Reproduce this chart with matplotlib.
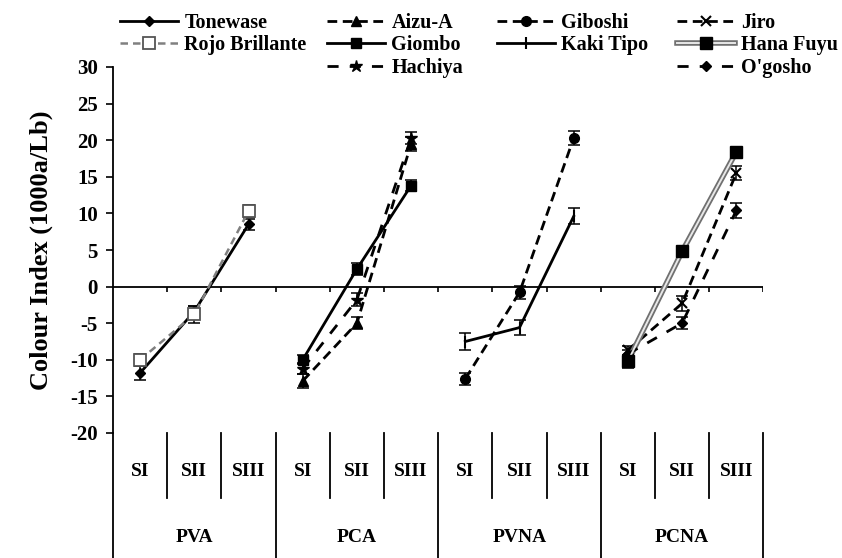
import matplotlib
matplotlib.use("Agg")
import matplotlib.pyplot as plt
from matplotlib.lines import Line2D
from matplotlib.legend_handler import HandlerTuple
import matplotlib.transforms as mtransforms

plt.rcParams['font.family'] = ['Liberation Serif', 'DejaVu Serif']
plt.rcParams['font.weight'] = 'bold'

# ---- data ----
groups = ["PVA", "PCA", "PVNA", "PCNA"]
stages = ["SI", "SII", "SIII"]
yticks = [30, 25, 20, 15, 10, 5, 0, -5, -10, -15, -20]

tonewase = [-11.8, -3.4, 8.5]
tonewase_err = [1.0, 0.8, 0.8]
rojo = [-10.0, -3.8, 10.3]
rojo_err = [0.8, 1.2, 0.8]
aizu = [-12.9, -5.0, 19.5]
aizu_err = [1.0, 0.8, 1.0]
giombo = [-10.0, 2.4, 13.8]
giombo_err = [0.6, 0.8, 0.8]
hachiya = [-11.2, -1.8, 20.3]
hachiya_err = [0.8, 0.9, 0.8]
giboshi = [-12.6, -0.8, 20.3]
giboshi_err = [0.8, 0.9, 1.0]
kaki = [-7.5, -5.6, 9.6]
kaki_err = [1.1, 1.0, 1.1]
jiro = [-8.7, -2.3, 15.5]
jiro_err = [0.6, 1.0, 1.0]
hana = [-10.2, 4.8, 18.4]
hana_err = [0.9, 0.6, 0.6]
ogosho = [-9.2, -5.0, 10.4]
ogosho_err = [0.6, 0.8, 1.0]

W, H = 842, 558
fig = plt.figure(figsize=(W / 100, H / 100), dpi=100)
ax_l, ax_r, ax_t, ax_b = 113, 763.4, 67, 433
ax = fig.add_axes([ax_l / W, (H - ax_b) / H, (ax_r - ax_l) / W, (ax_b - ax_t) / H])
ax.set_xlim(0, 12)
ax.set_ylim(-20, 30)

for s in ["top", "right", "bottom"]:
    ax.spines[s].set_visible(False)
ax.spines["left"].set_linewidth(1.3)
ax.set_yticks(yticks)
ax.set_yticklabels([str(v) for v in yticks], fontsize=15, fontweight='bold')
ax.tick_params(axis='y', direction='out', length=5, width=1.2, pad=6)
ax.set_xticks([])
ax.set_ylabel("Colour Index (1000a/Lb)", fontsize=19, fontweight='bold', labelpad=12)

# zero line with ticks
ax.axhline(0, color='black', lw=1.3, zorder=1)
ax.vlines(range(1, 13), -0.7, 0, color='black', lw=1.2)

def gx(gi):
    return [gi * 3 + 0.5, gi * 3 + 1.5, gi * 3 + 2.5]

ekw = dict(ecolor='black', elinewidth=1.1, capsize=4, capthick=1.1, zorder=3)

def draw(gi, vals, err, **kw):
    x = gx(gi)
    ax.errorbar(x, vals, yerr=err, fmt='none', **ekw)
    return ax.plot(x, vals, zorder=4, **kw)[0]

h_tone = draw(0, tonewase, tonewase_err, color='black', lw=2, ls='-', marker='D', ms=5)
h_rojo = draw(0, rojo, rojo_err, color='#808080', lw=1.8, ls=(0, (3, 2)), marker='s', ms=8,
              mfc='white', mec='#555555', mew=1.3)
h_aizu = draw(1, aizu, aizu_err, color='black', lw=2, ls=(0, (3.5, 2)), marker='^', ms=7)
h_giom = draw(1, giombo, giombo_err, color='black', lw=2, ls='-', marker='s', ms=7)
h_hach = draw(1, hachiya, hachiya_err, color='black', lw=2, ls=(0, (4, 4)), marker='*', ms=9)
h_gibo = draw(2, giboshi, giboshi_err, color='black', lw=2, ls=(0, (3.5, 2)), marker='o', ms=7)
h_kaki = draw(2, kaki, kaki_err, color='black', lw=2, ls='-', marker='|', ms=8, mew=1.5)
h_jiro = draw(3, jiro, jiro_err, color='black', lw=2, ls=(0, (3.5, 2)), marker='x', ms=7, mew=1.5)
xh = gx(3)
ax.errorbar(xh, hana, yerr=hana_err, fmt='none', **ekw)
h_hana_o = ax.plot(xh, hana, color='#707070', lw=4.0, zorder=4)[0]
h_hana_i = ax.plot(xh, hana, color='#e8e8e8', lw=1.4, zorder=4.5)[0]
h_hana_m = ax.plot(xh, hana, ls='none', marker='s', ms=8, color='black', zorder=5)[0]
h_ogo = draw(3, ogosho, ogosho_err, color='black', lw=2, ls=(0, (4, 4)), marker='D', ms=5)

# category table below the axis
trans = mtransforms.blended_transform_factory(ax.transData, ax.transAxes)
axh = ax_b - ax_t
short_end = -(498 - ax_b) / axh
long_end = -(H - ax_b) / axh
for b in range(0, 13):
    if b % 3 == 0:
        ax.plot([b, b], [0, long_end], transform=trans, color='black', lw=1.3, clip_on=False)
    else:
        ax.plot([b, b], [0, short_end], transform=trans, color='black', lw=1.3, clip_on=False)
stage_y = -(472 - ax_b) / axh
group_y = -(537 - ax_b) / axh
for gi, g in enumerate(groups):
    for si, s in enumerate(stages):
        ax.text(gi * 3 + si + 0.5, stage_y, s, transform=trans, ha='center', va='center',
                fontsize=14, fontweight='bold')
    ax.text(gi * 3 + 1.5, group_y, g, transform=trans, ha='center', va='center',
            fontsize=14, fontweight='bold')

# legends (four columns)
cols = [
    (120, [h_tone, h_rojo], ["Tonewase", "Rojo Brillante"]),
    (327, [h_aizu, h_giom, h_hach], ["Aizu-A", "Giombo", "Hachiya"]),
    (497, [h_gibo, h_kaki], ["Giboshi", "Kaki Tipo"]),
    (677, [h_jiro, (h_hana_o, h_hana_i, h_hana_m), h_ogo], ["Jiro", "Hana Fuyu", "O'gosho"]),
]
for xpix, hs, ls in cols:
    fig.legend(hs, ls, loc='upper left', bbox_to_anchor=(xpix / W, (H - 13) / H),
               frameon=False, borderpad=0, borderaxespad=0, handlelength=2.9,
               handletextpad=0.3, labelspacing=0.12,
               prop={'weight': 'bold', 'size': 14.5},
               handler_map={tuple: HandlerTuple(ndivide=1)})

fig.savefig("out.png", dpi=100)
